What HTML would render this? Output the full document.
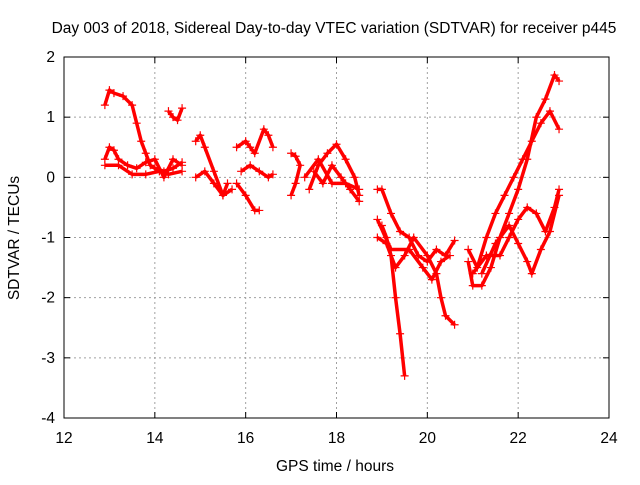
<!DOCTYPE html>
<html><head><meta charset="utf-8"><style>
body{margin:0;background:#fff}
text{font-family:"Liberation Sans",sans-serif;font-size:15.5px;fill:#000}
</style></head><body>
<svg id="chart" width="640" height="480" xmlns="http://www.w3.org/2000/svg">
<rect width="640" height="480" fill="#fff"/>
<text x="334" y="33" text-anchor="middle">Day 003 of 2018, Sidereal Day-to-day VTEC variation (SDTVAR) for receiver p445</text>
<g id="grid"></g>
<g id="axes"></g>
<g id="series"></g>
<text x="335" y="471" text-anchor="middle">GPS time / hours</text>
<text transform="translate(19,238) rotate(-90)" text-anchor="middle">SDTVAR / TECUs</text>
</svg>
<script>
const xTicks=[12,14,16,18,20,22,24];
const yTicks=[-4,-3,-2,-1,0,1,2];
const tracks=[
[[12.9,1.2],[13.0,1.45],[13.1,1.4],[13.3,1.35],[13.5,1.2],[13.6,0.9],[13.7,0.6],[13.8,0.4],[13.9,0.2],[14.0,0.15],[14.2,0.1],[14.4,0.15],[14.6,0.25]],
[[12.9,0.3],[13.0,0.5],[13.1,0.45],[13.2,0.3],[13.4,0.2],[13.6,0.15],[13.8,0.25],[14.0,0.3],[14.2,0.0],[14.4,0.3],[14.6,0.2]],
[[12.9,0.2],[13.2,0.2],[13.5,0.05],[13.8,0.05],[14.1,0.1],[14.3,0.05],[14.6,0.1]],
[[14.3,1.1],[14.4,1.0],[14.5,0.95],[14.6,1.15]],
[[14.9,0.6],[15.0,0.7],[15.1,0.5],[15.3,0.1],[15.5,-0.3],[15.7,-0.2]],
[[14.9,0.0],[15.1,0.1],[15.3,-0.1],[15.5,-0.3],[15.6,-0.1]],
[[15.8,0.5],[16.0,0.6],[16.1,0.5],[16.2,0.4],[16.4,0.8],[16.5,0.7],[16.6,0.5]],
[[15.8,-0.1],[16.0,-0.3],[16.2,-0.55],[16.3,-0.55]],
[[15.9,0.1],[16.1,0.2],[16.3,0.1],[16.5,0.0],[16.6,0.05]],
[[17.0,0.4],[17.1,0.35],[17.2,0.2],[17.1,-0.1],[17.0,-0.3]],
[[17.4,-0.2],[17.6,0.2],[17.8,0.4],[18.0,0.55],[18.2,0.3],[18.4,0.0],[18.5,-0.3]],
[[17.5,0.1],[17.7,-0.1],[17.9,0.2],[18.1,0.0],[18.3,-0.2],[18.5,-0.4]],
[[17.3,0.0],[17.6,0.3],[17.9,-0.1],[18.2,-0.1],[18.5,-0.2]],
[[18.9,-0.2],[19.0,-0.2],[19.2,-0.6],[19.4,-0.9],[19.6,-1.0],[19.8,-1.3],[20.0,-1.4],[20.2,-1.2],[20.4,-1.3],[20.6,-1.05]],
[[19.0,-0.8],[19.1,-1.0],[19.2,-1.3],[19.3,-2.0],[19.4,-2.6],[19.5,-3.3]],
[[18.9,-1.0],[19.1,-1.1],[19.3,-1.5],[19.5,-1.3],[19.7,-1.0],[20.0,-1.3],[20.2,-1.6],[20.3,-2.0],[20.4,-2.3],[20.6,-2.45]],
[[18.9,-0.7],[19.2,-1.2],[19.6,-1.2],[19.9,-1.5],[20.1,-1.7],[20.3,-1.4],[20.5,-1.3]],
[[20.9,-1.4],[21.0,-1.8],[21.2,-1.8],[21.4,-1.5],[21.6,-1.0],[21.8,-0.6],[22.0,-0.2],[22.2,0.3],[22.4,1.0],[22.6,1.3],[22.8,1.7],[22.9,1.6]],
[[20.9,-1.2],[21.1,-1.5],[21.3,-1.0],[21.5,-0.6],[21.7,-0.3],[21.9,0.0],[22.1,0.3],[22.3,0.6],[22.5,0.9],[22.7,1.1],[22.9,0.8]],
[[21.0,-1.6],[21.3,-1.3],[21.6,-1.3],[21.8,-1.0],[22.0,-0.7],[22.2,-0.5],[22.4,-0.6],[22.6,-0.9],[22.8,-0.5],[22.9,-0.2]],
[[21.2,-1.6],[21.5,-1.1],[21.8,-0.8],[22.0,-1.1],[22.2,-1.4],[22.3,-1.6],[22.5,-1.2],[22.7,-0.9],[22.9,-0.3]]
];
const NS="http://www.w3.org/2000/svg";
const L=64,R=609,T=57,B=418;
function xs(h){return L+(h-12)/12*(R-L);}
function ys(v){return T+(2-v)/6*(B-T);}
function mk(tag,a,p){const e=document.createElementNS(NS,tag);for(const k in a)e.setAttribute(k,a[k]);p.appendChild(e);return e;}
const grid=document.getElementById('grid'),axes=document.getElementById('axes'),ser=document.getElementById('series');
xTicks.forEach(t=>{const x=xs(t);
 if(t>12&&t<24){const g=mk('line',{x1:x,x2:x,y1:T,y2:B,stroke:'#a0a0a0','stroke-dasharray':'2,3','stroke-width':1},grid);
 }
 const tx=mk('text',{x:x,y:B+25,'text-anchor':'middle'},axes);tx.textContent=t;
 
 mk('line',{x1:x,x2:x,y1:B,y2:B-6,stroke:'#000'},axes);mk('line',{x1:x,x2:x,y1:T,y2:T+6,stroke:'#000'},axes);
});
yTicks.forEach(t=>{const y=ys(t);
 if(t>-4&&t<2){const g=mk('line',{x1:L,x2:R,y1:y,y2:y,stroke:'#a0a0a0','stroke-dasharray':'2,3','stroke-width':1},grid);
 }
 const tx=mk('text',{x:L-9,y:y+5,'text-anchor':'end'},axes);tx.textContent=t;
 
 mk('line',{x1:L,x2:L+6,y1:y,y2:y,stroke:'#000'},axes);mk('line',{x1:R,x2:R-6,y1:y,y2:y,stroke:'#000'},axes);
});
const fr=mk('rect',{x:L,y:T,width:R-L,height:B-T,fill:'none',stroke:'#000'},axes);

tracks.forEach(tr=>{
 const pl=mk('polyline',{points:tr.map(p=>xs(p[0])+','+ys(p[1])).join(' '),fill:'none',stroke:'#f00','stroke-width':3.5,'stroke-linejoin':'round'},ser);
 
 tr.forEach(p=>{const x=xs(p[0]),y=ys(p[1]);
  const m=mk('path',{d:`M${x-4},${y}H${x+4}M${x},${y-4}V${y+4}`,stroke:'#f00','stroke-width':1.2},ser);
  });
});
</script>
</body></html>
